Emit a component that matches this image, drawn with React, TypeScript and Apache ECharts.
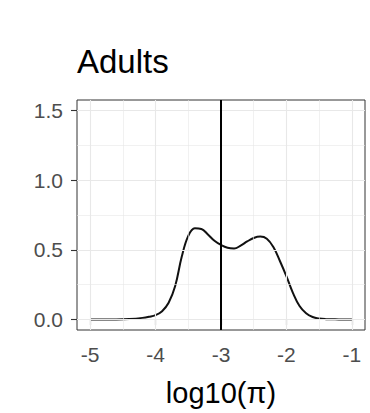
import React, { useEffect, useRef } from "react";
import * as echarts from "echarts";

const titleText = "Adults";
const xAxisTitle = "log10(π)";
const xTicks = [-5, -4, -3, -2, -1];
const xMinor = [-4.5, -3.5, -2.5, -1.5];
const yTicks = [0, 0.5, 1.0, 1.5];
const yMinor = [0.25, 0.75, 1.25];
const refLineX = -3;

const densityX = [
  -5.0, -4.6, -4.4, -4.2, -4.1, -4.0, -3.9, -3.8, -3.7, -3.6, -3.5, -3.4, -3.3, -3.2,
  -3.1, -3.0, -2.9, -2.8, -2.7, -2.6, -2.5, -2.4, -2.3, -2.2, -2.1, -2.0, -1.9, -1.8,
  -1.7, -1.6, -1.5, -1.4, -1.2, -1.0,
];
const densityY = [
  0.0, 0.001, 0.004, 0.012, 0.02, 0.032, 0.06, 0.12, 0.24, 0.45, 0.6, 0.655, 0.65, 0.61,
  0.565, 0.535, 0.515, 0.51, 0.53, 0.56, 0.585, 0.595, 0.58, 0.52, 0.42, 0.31, 0.19, 0.097,
  0.045, 0.018, 0.007, 0.003, 0.001, 0.0,
];

export default function App() {
  const ref = useRef<HTMLDivElement>(null);
  useEffect(() => {
    if (!ref.current) return;
    const chart = echarts.init(ref.current, null, { renderer: "svg" });
    const font = "'Liberation Sans', Arial, Helvetica, sans-serif";
    const gridLine = (v: number, axis: "x" | "y", minor: boolean) => ({
      [axis === "x" ? "xAxis" : "yAxis"]: v,
      lineStyle: { color: "#e8e8e8", width: minor ? 0.6 : 1.1, type: "solid" },
      label: { show: false },
    });
    chart.setOption({
      animation: false,
      backgroundColor: "#ffffff",
      title: {
        text: titleText,
        left: 77,
        top: 45,
        textStyle: { fontFamily: font, fontSize: 33, fontWeight: "normal", color: "#000000" },
        padding: 0,
      },
      grid: {
        left: 77,
        right: 5,
        top: 100,
        bottom: 83,
        show: true,
        borderColor: "#333333",
        borderWidth: 1,
        backgroundColor: "#ffffff",
        z: 0,
      },
      xAxis: {
        type: "value",
        min: -5.2,
        max: -0.8,
        name: xAxisTitle,
        nameLocation: "middle",
        nameGap: 48,
        nameTextStyle: { fontFamily: font, fontSize: 29, color: "#000000" },
        axisLine: { show: false },
        splitLine: { show: false },
        axisTick: {
          show: true,
          customValues: xTicks,
          length: 6,
          lineStyle: { color: "#333333", width: 1.1 },
        },
        axisLabel: {
          customValues: xTicks,
          margin: 14,
          fontFamily: font,
          fontSize: 21,
          color: "#4d4d4d",
          formatter: (v: number) => String(v),
        },
      },
      yAxis: {
        type: "value",
        min: -0.075,
        max: 1.575,
        axisLine: { show: false },
        splitLine: { show: false },
        axisTick: {
          show: true,
          customValues: yTicks,
          length: 6,
          lineStyle: { color: "#333333", width: 1.1 },
        },
        axisLabel: {
          customValues: yTicks,
          margin: 14,
          fontFamily: font,
          fontSize: 21,
          color: "#4d4d4d",
          formatter: (v: number) => v.toFixed(1),
        },
      },
      series: [
        {
          type: "line",
          data: [],
          silent: true,
          z: 1,
          markLine: {
            silent: true,
            symbol: "none",
            animation: false,
            data: [
              ...xMinor.map((v) => gridLine(v, "x", true)),
              ...yMinor.map((v) => gridLine(v, "y", true)),
              ...xTicks.map((v) => gridLine(v, "x", false)),
              ...yTicks.map((v) => gridLine(v, "y", false)),
            ],
          },
        },
        {
          type: "line",
          data: densityX.map((x, i) => [x, densityY[i]]),
          smooth: 0.4,
          showSymbol: false,
          symbol: "none",
          z: 3,
          lineStyle: { color: "#111111", width: 2 },
          markLine: {
            silent: true,
            symbol: "none",
            animation: false,
            data: [{ xAxis: refLineX, lineStyle: { color: "#000000", width: 2, type: "solid" }, label: { show: false } }],
          },
        },
      ],
    });
    return () => chart.dispose();
  }, []);
  return (
    <div
      ref={ref}
      style={{ position: "fixed", left: 0, top: 0, width: 370, height: 413 }}
    />
  );
}
